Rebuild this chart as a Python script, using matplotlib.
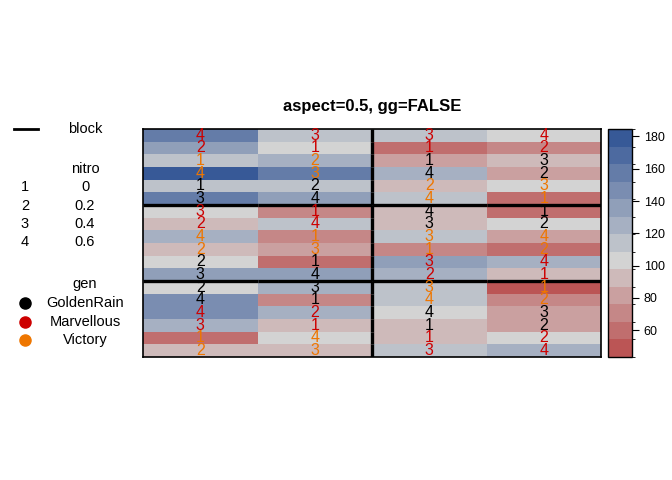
import numpy as np
import matplotlib
matplotlib.use("Agg")
import matplotlib.pyplot as plt
from matplotlib.colors import ListedColormap, BoundaryNorm, to_rgb

plt.rcParams['font.family'] = ['Liberation Sans', 'DejaVu Sans']

# yates oats field layout: 18 rows (top to bottom) x 4 columns
# gen code per plot: G=GoldenRain, M=Marvellous, V=Victory
gen_rows = ["MMMM", "MMMM", "VVGG", "VVGG", "GGVV", "GGVV",
            "MMGG", "MMGG", "VVVV", "VVVV", "GGMM", "GGMM",
            "GGVV", "GGVV", "MMGG", "MMGG", "VVMM", "VVMM"]
nitro_rows = ["4334", "2112", "1213", "4342", "1223", "3441",
              "3141", "2432", "4134", "2312", "2134", "3421",
              "2331", "4142", "4243", "3112", "1412", "2334"]
block_rows = ["I I V V".split()] * 6 + ["IV IV III III".split()] * 6 + ["II II VI VI".split()] * 6
yield_rows = [
    [156, 118, 109, 99], [140, 105, 63, 70], [111, 130, 80, 94],
    [174, 157, 126, 82], [117, 114, 90, 100], [161, 141, 116, 62],
    [104, 70, 96, 60], [89, 117, 89, 102], [122, 74, 112, 86],
    [89, 81, 68, 64], [103, 64, 132, 124], [132, 133, 129, 89],
    [108, 126, 118, 53], [149, 70, 113, 74], [144, 124, 104, 86],
    [121, 96, 89, 82], [61, 100, 97, 99], [91, 97, 119, 121],
]
gen_names = {"G": "GoldenRain", "M": "Marvellous", "V": "Victory"}
gen_colors = {"G": "black", "M": "#CD0000", "V": "#EE7600"}
nitro_levels = ["1", "2", "3", "4"]
nitro_labels = ["0", "0.2", "0.4", "0.6"]

Z = np.array(yield_rows, dtype=float)
nrow, ncol = Z.shape

# colour scale: 13 bins, red-gray-blue ramp centred on the gray bin
edges = np.linspace(43.5, 184.55, 14)
red, gray, blue = map(np.array, (to_rgb("firebrick"), to_rgb("lightgray"), to_rgb("#375997")))
cols = []
for k in range(13):
    if k < 5:
        f = (5 - k) / 7
        cols.append(gray + f * (red - gray))
    else:
        f = (k - 5) / 7
        cols.append(gray + f * (blue - gray))
cmap = ListedColormap(cols)
norm = BoundaryNorm(edges, cmap.N)

W, H = 672, 480
fig = plt.figure(figsize=(W / 100, H / 100), dpi=100)

def px_axes(x0, y0, x1, y1):
    return fig.add_axes([x0 / W, 1 - y1 / H, (x1 - x0) / W, (y1 - y0) / H])

ax = px_axes(143, 129, 601, 357)
mesh = ax.pcolormesh(np.arange(ncol + 1) + 0.5, np.arange(nrow + 1) + 0.5, Z,
                     cmap=cmap, norm=norm)
ax.set_xlim(0.5, ncol + 0.5)
ax.set_ylim(nrow + 0.5, 0.5)
ax.set_xticks([])
ax.set_yticks([])
for s in ax.spines.values():
    s.set_linewidth(1.2)

for r in range(nrow):
    for c in range(ncol):
        g = gen_rows[r][c]
        ax.text(c + 1, r + 1, nitro_rows[r][c], ha="center", va="center",
                fontsize=11.5, color=gen_colors[g])

# block outlines
for r in range(nrow):
    for c in range(ncol):
        b = block_rows[r][c]
        if c + 1 < ncol and block_rows[r][c + 1] != b:
            ax.plot([c + 1.5, c + 1.5], [r + 0.5, r + 1.5], color="black", lw=2.4, solid_capstyle="butt")
        if r + 1 < nrow and block_rows[r + 1][c] != b:
            ax.plot([c + 0.5, c + 1.5], [r + 1.5, r + 1.5], color="black", lw=2.4, solid_capstyle="butt")

ax.set_title("aspect=0.5, gg=FALSE", fontsize=12, fontweight="bold", pad=13)

# colour key
cax = px_axes(608, 129, 632, 357)
cb = fig.colorbar(mesh, cax=cax, ticks=[60, 80, 100, 120, 140, 160, 180])
cb.outline.set_linewidth(1.0)
cax.tick_params(labelsize=9, length=5, width=0.8)

# legend on the left
lax = fig.add_axes([0, 0, 1, 1])
lax.set_xlim(0, W)
lax.set_ylim(H, 0)
lax.axis("off")
lfs = 10.5
lax.plot([14, 38], [129, 129], color="black", lw=2)
lax.text(85, 129, "block", ha="center", va="center", fontsize=lfs)
lax.text(85, 169, "nitro", ha="center", va="center", fontsize=lfs)
for i, (lv, lb) in enumerate(zip(nitro_levels, nitro_labels)):
    y = 187 + i * 18.5
    lax.text(25, y, lv, ha="center", va="center", fontsize=lfs)
    lax.text(85, y, lb, ha="center", va="center", fontsize=lfs)
lax.text(85, 284, "gen", ha="center", va="center", fontsize=lfs)
for i, g in enumerate(["G", "M", "V"]):
    y = 303 + i * 18.5
    lax.plot(25, y, "o", color=gen_colors[g], markersize=8)
    lax.text(85, y, gen_names[g], ha="center", va="center", fontsize=lfs)

fig.savefig("out.png", dpi=100)
